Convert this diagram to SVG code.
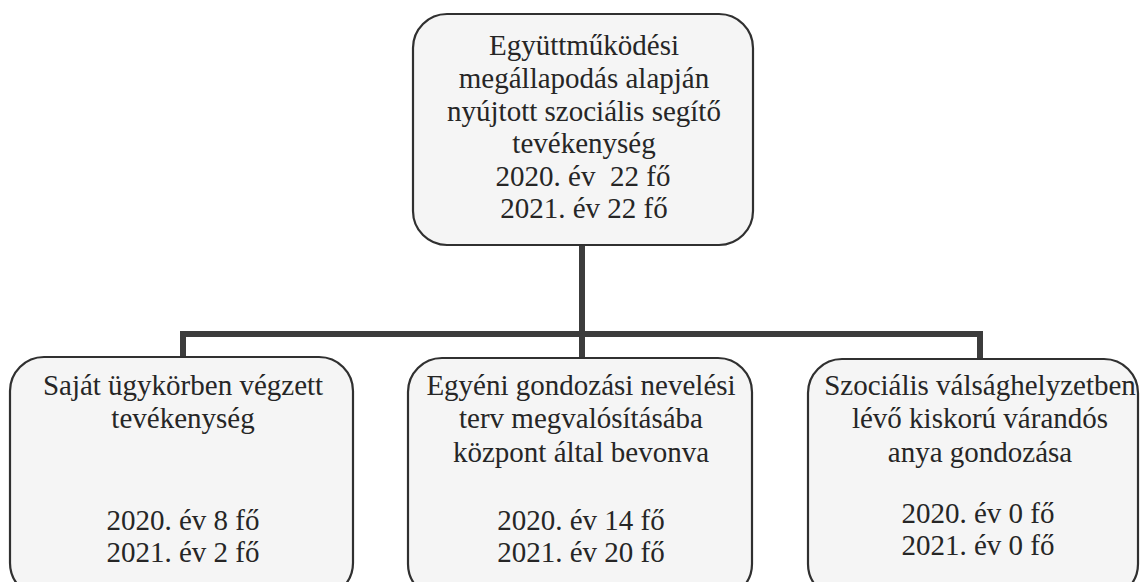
<svg xmlns="http://www.w3.org/2000/svg" width="1141" height="582" viewBox="0 0 1141 582">
<style>
.box{fill:#f5f5f5;stroke:#303030;stroke-width:2.2}
.t{font-size:29px;fill:#262626;text-anchor:middle;white-space:pre}
.c{fill:none;stroke:#3c3c3c;stroke-width:6;stroke-linejoin:miter}
</style>
<rect width="1141" height="582" fill="#ffffff"/>
<g id="connectors">
<path class="c" d="M582 245 V334"/>
<path class="c" d="M183 357 V334 H980 V359"/>
<path class="c" d="M582 334 V358"/>
</g>
<g id="top" font-family="Liberation Serif, serif">
<rect class="box" x="413" y="14" width="340" height="231" rx="34"/>
<text class="t" x="584" y="55">Együttműködési</text>
<text class="t" x="584" y="88">megállapodás alapján</text>
<text class="t" x="584" y="121">nyújtott szociális segítő</text>
<text class="t" x="584" y="153">tevékenység</text>
<text class="t" x="583" y="186">2020. év  22 fő</text>
<text class="t" x="584" y="218">2021. év 22 fő</text>
</g>
<g id="left" font-family="Liberation Serif, serif">
<rect class="box" x="10" y="357" width="343" height="240" rx="34"/>
<text class="t" x="183" y="395">Saját ügykörben végzett</text>
<text class="t" x="183" y="428">tevékenység</text>
<text class="t" x="183" y="530">2020. év 8 fő</text>
<text class="t" x="183" y="562">2021. év 2 fő</text>
</g>
<g id="middle" font-family="Liberation Serif, serif">
<rect class="box" x="408" y="358" width="344" height="240" rx="34"/>
<text class="t" x="581" y="395">Egyéni gondozási nevelési</text>
<text class="t" x="581" y="428">terv megvalósításába</text>
<text class="t" x="581" y="462">központ által bevonva</text>
<text class="t" x="581" y="530">2020. év 14 fő</text>
<text class="t" x="581" y="562">2021. év 20 fő</text>
</g>
<g id="right" font-family="Liberation Serif, serif">
<rect class="box" x="808" y="359" width="330" height="239" rx="34"/>
<text class="t" x="980" y="395">Szociális válsághelyzetben</text>
<text class="t" x="980" y="428">lévő kiskorú várandós</text>
<text class="t" x="980" y="462">anya gondozása</text>
<text class="t" x="978" y="523">2020. év 0 fő</text>
<text class="t" x="978" y="555">2021. év 0 fő</text>
</g>
</svg>
